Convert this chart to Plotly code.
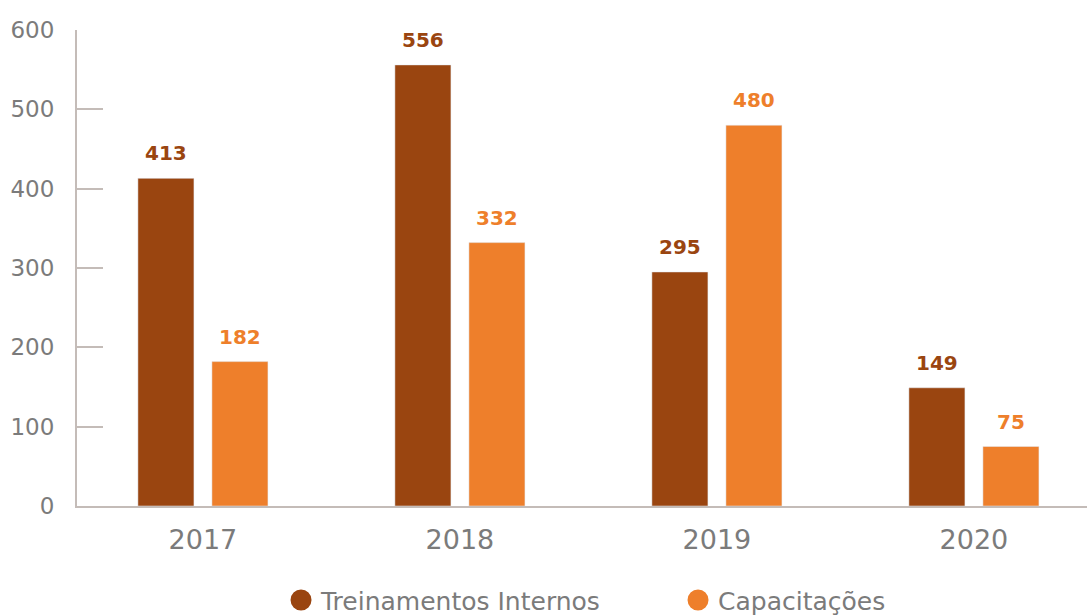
import plotly.graph_objects as go

anos = ['2017', '2018', '2019', '2020']
treinamentos = [413, 556, 295, 149]
capacitacoes = [182, 332, 480, 75]
series = ['Treinamentos Internos', 'Capacitações']
y_ticks = [0, 100, 200, 300, 400, 500, 600]

cor_escura = '#9A4510'
cor_clara = '#EE7F2B'
cinza = '#7b7b7b'
cor_eixo = '#c4bcb8'
fonte = 'DejaVu Sans'

bargap = 0.424
deslocamento = (1 - bargap) / 4

fig = go.Figure()
fig.add_trace(go.Bar(
        x=anos,
        y=treinamentos,
        name=series[0],
        marker=dict(color=cor_escura),
        showlegend=False
    )
)
fig.add_trace(go.Bar(
        x=anos,
        y=capacitacoes,
        name=series[1],
        marker=dict(color=cor_clara),
        showlegend=False
    )
)

# circulos da legenda
for nome, cor in zip(series, [cor_escura, cor_clara]):
    fig.add_trace(go.Scatter(
            x=[None],
            y=[None],
            mode='markers',
            name=nome,
            marker=dict(color=cor, size=22, symbol='circle',
                        line=dict(color=cor, width=5))
        )
    )

# rotulos de valor acima das barras
anotacoes = []
for i, (a, b) in enumerate(zip(treinamentos, capacitacoes)):
    for valor, cor, sinal in [(a, cor_escura, -1), (b, cor_clara, 1)]:
        anotacoes.append(dict(
            x=i + sinal * deslocamento,
            y=valor,
            xref='x',
            yref='y',
            text='<b>%d</b>' % valor,
            showarrow=False,
            yshift=25,
            yanchor='middle',
            font=dict(family=fonte, size=20, color=cor)
        ))

fig.update_layout(
    width=1087,
    height=615,
    margin=dict(l=77, r=0, t=30, b=109, autoexpand=False),
    plot_bgcolor='white',
    paper_bgcolor='white',
    barmode='group',
    bargap=bargap,
    bargroupgap=0.243,
    annotations=anotacoes,
    font=dict(family=fonte, color=cinza),
    showlegend=True,
    legend=dict(
        orientation='h',
        x=0.202,
        xanchor='left',
        y=-0.198,
        yanchor='middle',
        font=dict(family=fonte, size=25, color=cinza),
        entrywidth=352
    ),
    xaxis=dict(
        type='category',
        range=[-0.49, 3.44],
        showline=True,
        linecolor=cor_eixo,
        linewidth=2,
        ticks='',
        showgrid=False,
        ticklabelstandoff=9,
        tickfont=dict(family=fonte, size=27, color=cinza)
    ),
    yaxis=dict(
        range=[0, 600],
        tickvals=y_ticks,
        showline=True,
        linecolor=cor_eixo,
        linewidth=2,
        ticks='inside',
        ticklen=26,
        tickwidth=2,
        tickcolor=cor_eixo,
        showgrid=False,
        zeroline=False,
        ticklabelstandoff=16,
        tickfont=dict(family=fonte, size=23, color=cinza)
    )
)

# a pagina tem margem padrao de 8px no body
fig.write_html("out.html", config={'displayModeBar': False},
               post_script="document.body.style.margin='0';")
